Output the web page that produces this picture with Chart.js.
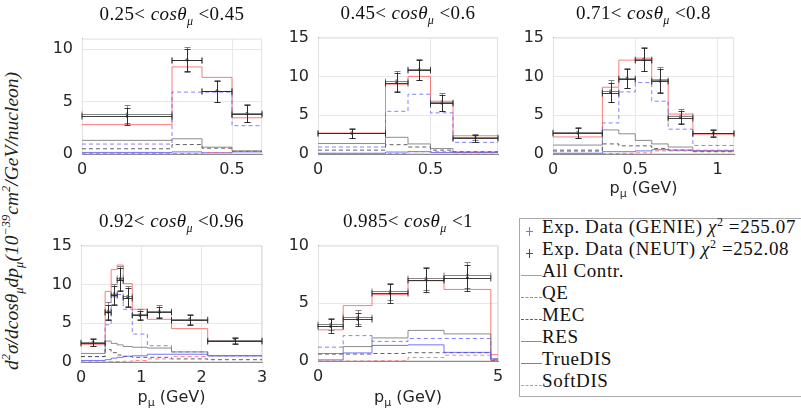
<!DOCTYPE html>
<html>
<head>
<meta charset="utf-8">
<script src="https://cdn.jsdelivr.net/npm/chart.js@4"></script>
<style>
  body { margin: 0; background: #fff; width: 801px; height: 416px; overflow: hidden; position: relative; }
  canvas { position: absolute; }
  .ttl { position: absolute; transform: translate(-50%, -50%); white-space: nowrap; font: 19px 'Liberation Serif', serif; letter-spacing: 0.4px; color: #111; }
  .xl { position: absolute; transform: translate(-50%, -50%); white-space: nowrap; font: 16px 'DejaVu Sans', sans-serif; color: #262626; }
  .xl sub { font-size: 11px; }
  .ttl sub { font-size: 12px; }
  .yl { position: absolute; left: 13px; top: 221px; transform: translate(-50%, -50%) rotate(-90deg); white-space: nowrap; font: italic 19.5px 'Liberation Serif', serif; color: #222; }
  .yl sub, .yl sup { font-size: 12.5px; }
  #legend { position: absolute; left: 519px; top: 218px; width: 300px; height: 179px; border: 1px solid #aaa; box-sizing: border-box; }
  .row { position: absolute; left: 0; width: 290px; height: 22px; font: 19px 'Liberation Serif', serif; letter-spacing: 0.6px; color: #111; white-space: nowrap; }
  .row .smp { position: absolute; left: 1px; top: 11px; width: 21px; height: 0; }
  .row .txt { position: absolute; left: 22px; top: -7px; line-height: 28px; }
  .row sup { font-size: 12px; line-height: 0; }
</style>
</head>
<body>
<div class="yl"><i>d</i><sup>2</sup><i>&sigma;</i>/<i>dcos&theta;</i><sub><i>&mu;</i></sub><i>dp</i><sub><i>&mu;</i></sub>(10<sup>&minus;39</sup><i>cm</i><sup>2</sup>/<i>GeV</i>/<i>nucleon</i>)</div>
<div id="legend"></div>
<script>
// cos theta bins (titles)
const cosLo = ['0.25', '0.45', '0.71', '0.92', '0.985'];
const cosHi = ['0.45', '0.6', '0.8', '0.96', '1'];

// momentum bin edges (GeV)
const edges1 = [0, 0.3, 0.4, 0.5, 0.6];
const edges2 = [0, 0.3, 0.4, 0.5, 0.6, 0.8];
const edges3 = [0, 0.3, 0.4, 0.5, 0.6, 0.7, 0.85, 1.1];
const edges4 = [0, 0.4, 0.5, 0.6, 0.7, 0.85, 1.1, 1.5, 2.1, 3.0];
const edges5 = [0, 0.7, 1.5, 2.5, 3.5, 4.8, 5.0];

// exp. data (GENIE / NEUT unfolding)
const genie1 = [3.82, 9.0, 6.05, 3.9],  genieErr1 = [0.85, 1.2, 1.05, 0.85];
const neut1  = [3.59, 8.95, 6.0, 3.85], neutErr1  = [0.8, 1.05, 1.0, 0.8];
const genie2 = [2.75, 9.45, 10.9, 6.7, 2.15], genieErr2 = [0.65, 1.3, 1.35, 1.1, 0.4];
const neut2  = [2.65, 9.2, 10.85, 6.55, 2.05], neutErr2 = [0.6, 1.2, 1.3, 1.05, 0.45];
const genie3 = [2.8, 8.15, 9.8, 12.25, 9.55, 4.9, 2.75], genieErr3 = [0.7, 1.4, 1.25, 1.5, 1.6, 0.9, 0.45];
const neut3  = [2.7, 7.9, 9.7, 12.15, 9.4, 4.7, 2.65],  neutErr3  = [0.65, 1.2, 1.2, 1.45, 1.5, 0.85, 0.45];
const genie4 = [2.6, 6.6, 8.8, 10.8, 8.5, 6.15, 6.55, 5.55, 2.85], genieErr4 = [0.5, 1.1, 1.3, 1.55, 1.25, 0.65, 0.8, 0.7, 0.4];
const neut4  = [2.5, 6.4, 8.6, 10.6, 8.3, 6.0, 6.4, 5.45, 2.75],  neutErr4  = [0.5, 1.0, 1.25, 1.5, 1.2, 0.6, 0.75, 0.65, 0.4];
const genie5 = [3.2, 3.8, 6.05, 7.15, 7.45], genieErr5 = [0.55, 0.6, 0.75, 1.0, 1.15];
const neut5  = [3.0, 3.6, 5.85, 7.05, 7.2],  neutErr5  = [0.6, 0.55, 0.8, 1.05, 1.1];

// model contributions
const all1 = [2.8, 8.3, 7.3, 3.45];
const qe1  = [0.95, 5.9, 5.9, 2.7];
const mec1 = [0.5, 0.9, 0.55, 0.25];
const res1 = [1.3, 1.45, 0.65, 0.3];
const tdis1 = [0.15, 0.2, 0.12, 0.2];
const sdis1 = [0.05, 0.05, 0.15, 0.25];

const all2 = [2.7, 9.0, 10.0, 6.8, 2.35];
const qe2  = [0.9, 5.5, 7.7, 5.3, 1.5];
const mec2 = [0.5, 1.2, 0.9, 0.5, 0.3];
const res2 = [1.35, 2.15, 1.3, 0.7, 0.25];
const tdis2 = [0.1, 0.25, 0.3, 0.2, 0.2];
const sdis2 = [0.05, 0.05, 0.3, 0.3, 0.15];

const all3 = [2.2, 8.6, 12.1, 12.35, 9.6, 5.15, 2.55];
const qe3  = [0.35, 4.0, 8.0, 9.2, 6.8, 3.2, 1.1];
const mec3 = [0.5, 1.3, 1.05, 1.05, 0.7, 0.5, 0.3];
const res3 = [1.15, 3.1, 2.6, 1.75, 1.3, 0.9, 0.4];
const tdis3 = [0.1, 0.3, 0.3, 0.4, 0.55, 0.5, 0.4];
const sdis3 = [0.02, 0.05, 0.1, 0.15, 0.4, 0.4, 0.5];

const all4 = [2.28, 9.1, 11.9, 12.5, 10.1, 6.8, 5.5, 4.3, 2.7];
const qe4  = [0.7, 4.8, 8.4, 8.7, 6.8, 3.6, 2.1, 1.3, 0.8];
const mec4 = [0.7, 1.6, 1.2, 0.9, 0.7, 0.6, 0.6, 0.4, 0.3];
const res4 = [1.1, 2.7, 2.4, 2.2, 2.0, 1.9, 1.8, 1.3, 0.8];
const tdis4 = [0.2, 0.3, 0.5, 0.6, 0.75, 0.8, 1.0, 1.0, 0.8];
const sdis4 = [0.02, 0.02, 0.05, 0.05, 0.1, 0.2, 0.4, 0.7, 0.85];

const all5 = [2.7, 4.8, 5.75, 6.95, 6.2, 0.55];
const qe5  = [1.2, 2.2, 1.7, 1.95, 1.95, 0.1];
const mec5 = [0.6, 0.6, 0.65, 0.72, 0.72, 0.05];
const res5 = [0.65, 1.25, 2.0, 2.65, 2.35, 0.1];
const tdis5 = [0.1, 0.7, 1.35, 1.4, 0.75, 0.2];
const sdis5 = [0.0, 0.0, 0.02, 0.3, 0.5, 0.05];

const chi2Genie = '255.07', chi2Neut = '252.08';

// axis ranges / ticks
const xMax = [0.6, 0.8, 1.1, 3, 5];
const xStep = [0.5, 0.5, 0.5, 1, 5];
const yMax = [11, 15, 15, 15, 10];

// plot area boxes on the page [left, top, right, bottom]
const boxes = [[82, 30, 262, 154], [318, 29, 498, 154], [553, 29, 734, 154], [81, 237, 262, 362], [318, 237, 498, 361]];

const styles = {
  all:  { label: 'All Contr.', color: 'rgba(255,90,90,0.8)', dash: [] },
  qe:   { label: 'QE', color: 'rgba(90,90,255,0.75)', dash: [4, 3] },
  mec:  { label: 'MEC', color: 'rgba(70,70,70,0.85)', dash: [4, 3] },
  res:  { label: 'RES', color: 'rgba(120,120,120,0.85)', dash: [] },
  tdis: { label: 'TrueDIS', color: 'rgba(80,80,255,0.8)', dash: [] },
  sdis: { label: 'SoftDIS', color: 'rgba(255,90,90,0.75)', dash: [4, 3] }
};

const panels = [
  { edges: edges1, genie: genie1, gErr: genieErr1, neut: neut1, nErr: neutErr1, all: all1, qe: qe1, mec: mec1, res: res1, tdis: tdis1, sdis: sdis1 },
  { edges: edges2, genie: genie2, gErr: genieErr2, neut: neut2, nErr: neutErr2, all: all2, qe: qe2, mec: mec2, res: res2, tdis: tdis2, sdis: sdis2 },
  { edges: edges3, genie: genie3, gErr: genieErr3, neut: neut3, nErr: neutErr3, all: all3, qe: qe3, mec: mec3, res: res3, tdis: tdis3, sdis: sdis3 },
  { edges: edges4, genie: genie4, gErr: genieErr4, neut: neut4, nErr: neutErr4, all: all4, qe: qe4, mec: mec4, res: res4, tdis: tdis4, sdis: sdis4 },
  { edges: edges5, genie: genie5, gErr: genieErr5, neut: neut5, nErr: neutErr5, all: all5, qe: qe5, mec: mec5, res: res5, tdis: tdis5, sdis: sdis5 }
];

// stairs: one point per left edge, plus the last right edge
function stairs(edges, vals) {
  const pts = vals.map((v, i) => ({ x: edges[i], y: v }));
  pts.push({ x: edges[vals.length], y: vals[vals.length - 1] });
  return pts;
}

// error bars + frame
const errorBars = {
  id: 'errorBars',
  beforeDatasetsDraw(chart) {
    const { ctx, chartArea: a } = chart;
    ctx.save();
    ctx.strokeStyle = '#e2e2e2';
    ctx.lineWidth = 1;
    ctx.strokeRect(a.left + 0.5, a.top + 0.5, a.right - a.left - 1, a.bottom - a.top - 1);
    ctx.restore();
  },
  afterDatasetsDraw(chart) {
    const { ctx, scales: { x, y } } = chart;
    chart.data.datasets.forEach(ds => {
      if (!ds.err) return;
      ctx.save();
      ctx.strokeStyle = ds.borderColor;
      ctx.lineWidth = 1;
      ds.data.forEach((p, i) => {
        const px = Math.round(x.getPixelForValue(p.x)) + 0.5;
        const py = Math.round(y.getPixelForValue(p.y)) + 0.5;
        const top = Math.round(y.getPixelForValue(p.y + ds.err[i])) + 0.5;
        const bot = Math.round(y.getPixelForValue(p.y - ds.err[i])) + 0.5;
        const l = x.getPixelForValue(ds.xLo[i]);
        const r = x.getPixelForValue(ds.xHi[i]);
        ctx.beginPath();
        ctx.moveTo(px, top); ctx.lineTo(px, bot);
        ctx.moveTo(px - 3, top); ctx.lineTo(px + 3, top);
        ctx.moveTo(px - 3, bot); ctx.lineTo(px + 3, bot);
        ctx.moveTo(l, py); ctx.lineTo(r, py);
        ctx.moveTo(l, py - 3); ctx.lineTo(l, py + 3);
        ctx.moveTo(r, py - 3); ctx.lineTo(r, py + 3);
        ctx.stroke();
      });
      ctx.restore();
    });
  }
};

const PADL = 50, PADT = 10, PADR = 20, PADB = 30;
const tickFont = { family: 'DejaVu Sans', size: 16 };
const fmt = v => String(Number(v.toFixed(2)));

panels.forEach((p, k) => {
  const [L, T, R, B] = boxes[k];
  const cv = document.createElement('canvas');
  cv.style.left = (L - PADL) + 'px';
  cv.style.top = (T - PADT) + 'px';
  cv.width = R - L + PADL + PADR;
  cv.height = B - T + PADT + PADB;
  cv.style.width = cv.width + 'px';
  cv.style.height = cv.height + 'px';
  document.body.appendChild(cv);

  const mids = p.edges.slice(0, -1).map((e, i) => (e + p.edges[i + 1]) / 2);
  const n = p.genie.length;
  const datasets = [];
  ['sdis', 'tdis', 'res', 'mec', 'qe', 'all'].forEach(key => {
    datasets.push({
      data: stairs(p.edges, p[key]),
      borderColor: styles[key].color,
      borderDash: styles[key].dash,
      borderWidth: 1,
      stepped: true,
      pointRadius: 0,
      fill: false
    });
  });
  [['genie', 'gErr', 'rgba(120,120,120,0.9)'], ['neut', 'nErr', 'rgba(30,30,30,0.85)']].forEach(([key, ek, col]) => {
    datasets.push({
      data: p[key].map((v, i) => ({ x: mids[i], y: v })),
      err: p[ek],
      xLo: p.edges.slice(0, n),
      xHi: p.edges.slice(1, n + 1),
      borderColor: col,
      backgroundColor: col,
      showLine: false,
      pointRadius: 1.4,
      pointBorderWidth: 0
    });
  });

  new Chart(cv, {
    type: 'line',
    data: { datasets },
    plugins: [errorBars],
    options: {
      responsive: false,
      animation: false,
      events: [],
      layout: { padding: { left: 0, top: PADT, right: PADR, bottom: 0 } },
      plugins: { legend: { display: false }, tooltip: { enabled: false } },
      scales: {
        x: {
          type: 'linear', min: 0, max: xMax[k],
          ticks: { stepSize: xStep[k], includeBounds: false, padding: 6, color: '#262626', font: tickFont, maxRotation: 0, callback: fmt },
          grid: { color: '#e8e8e8', drawTicks: false },
          border: { color: '#8a8a8a' },
          afterFit: s => { s.height = PADB; }
        },
        y: {
          type: 'linear', min: 0, max: yMax[k],
          ticks: { stepSize: 5, includeBounds: false, padding: 9, color: '#262626', font: tickFont, callback: fmt },
          grid: { color: '#e8e8e8', drawTicks: false },
          border: { color: '#8a8a8a' },
          afterFit: s => { s.width = PADL; }
        }
      }
    }
  });

  const t = document.createElement('div');
  t.className = 'ttl';
  t.style.left = ((L + R) / 2) + 'px';
  t.style.top = (T - 14) + 'px';
  t.innerHTML = cosLo[k] + '&lt; <i>cos&theta;</i><sub><i>&mu;</i></sub> &lt;' + cosHi[k];
  document.body.appendChild(t);
});

// x axis labels on the bottom row + third panel
[[2, 189], [3, 398], [4, 398]].forEach(([k, yc]) => {
  const [L, , R] = boxes[k];
  const d = document.createElement('div');
  d.className = 'xl';
  d.style.left = ((L + R) / 2) + 'px';
  d.style.top = yc + 'px';
  d.innerHTML = 'p<sub>&mu;</sub> (GeV)';
  document.body.appendChild(d);
});

// legend
const leg = document.getElementById('legend');
const rows = [
  { html: 'Exp. Data (GENIE) <i>&chi;</i><sup>2</sup> =' + chi2Genie, data: 'rgba(120,120,120,0.9)' },
  { html: 'Exp. Data (NEUT) <i>&chi;</i><sup>2</sup> =' + chi2Neut, data: 'rgba(60,60,60,0.9)' },
  ...['all', 'qe', 'mec', 'res', 'tdis', 'sdis'].map(k => ({ html: styles[k].label, st: styles[k] }))
];
rows.forEach((r, i) => {
  const d = document.createElement('div');
  d.className = 'row';
  d.style.top = (1 + i * 22) + 'px';
  let smp;
  if (r.st) {
    smp = '<div class="smp" style="border-top:1px ' + (r.st.dash.length ? 'dashed' : 'solid') + ' ' + r.st.color + '"></div>';
  } else {
    smp = '<div style="position:absolute;left:6px;top:7px;width:7px;height:9px;">' +
      '<div style="position:absolute;left:3px;top:0;width:1px;height:9px;background:' + r.data + '"></div>' +
      '<div style="position:absolute;left:0;top:4px;width:7px;height:1px;background:' + r.data + '"></div></div>';
  }
  d.innerHTML = smp + '<div class="txt">' + r.html + '</div>';
  leg.appendChild(d);
});
</script>
</body>
</html>
